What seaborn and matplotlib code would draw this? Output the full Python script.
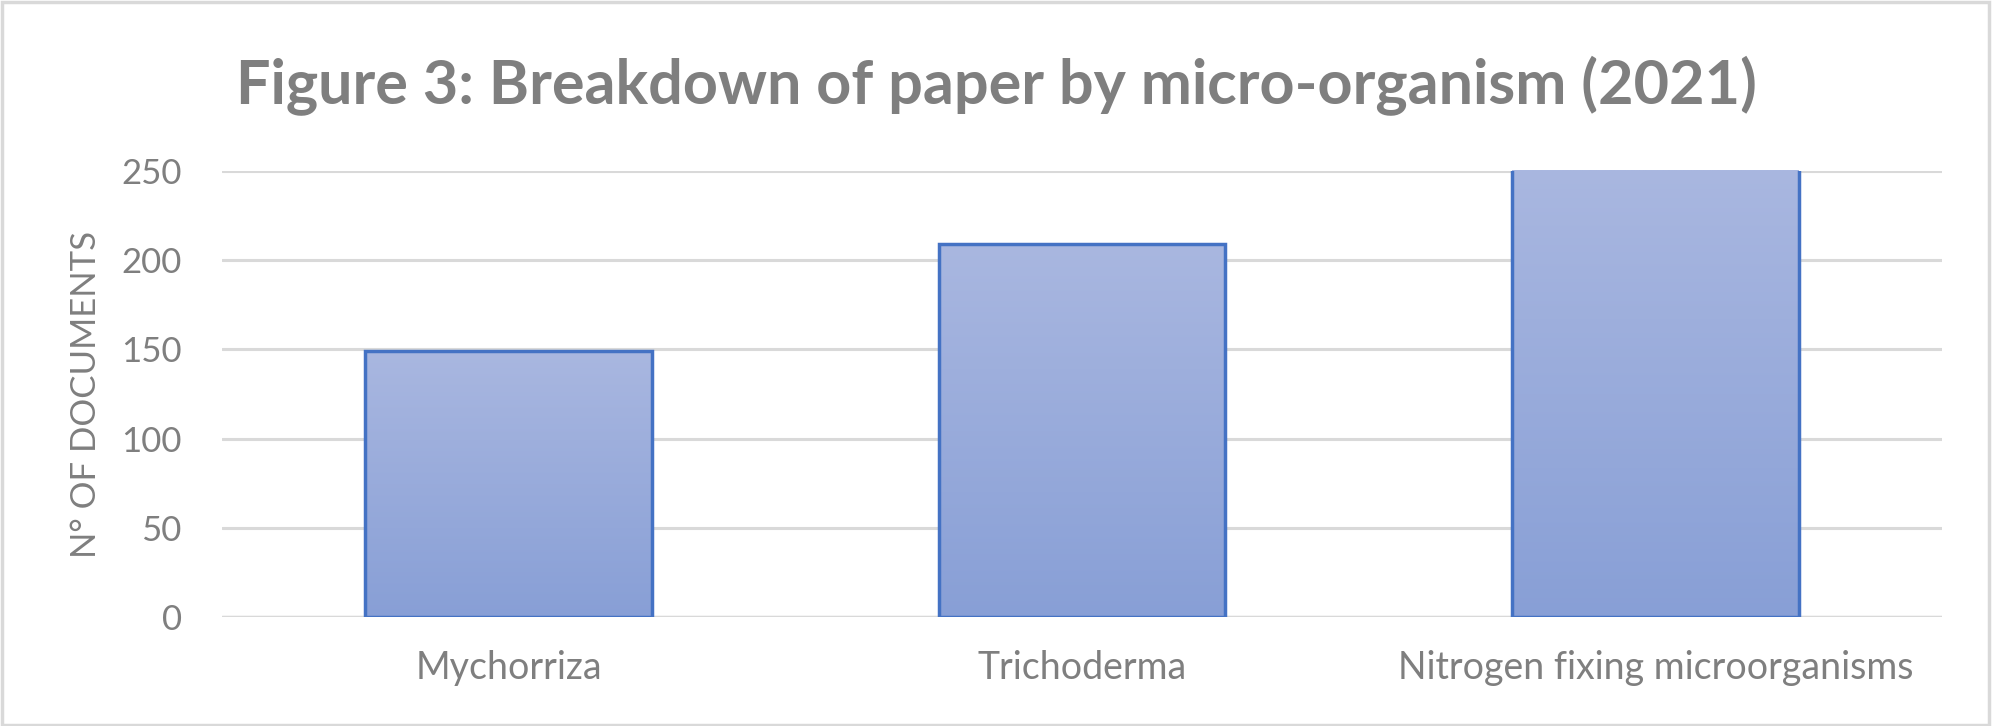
import matplotlib
matplotlib.use("Agg")
import matplotlib.pyplot as plt
import matplotlib.patches as mpatches
from matplotlib.colors import LinearSegmentedColormap
import numpy as np
import pandas as pd
import seaborn as sns

categories = ["Mychorriza", "Trichoderma", "Nitrogen fixing microorganisms"]
documents = [149, 209, 265]
y_ticks = [0, 50, 100, 150, 200, 250]

df = pd.DataFrame({"organism": categories, "docs": documents})

sns.set_theme(style="white")
plt.rcParams["font.family"] = ["Lato", "DejaVu Sans"]

grey = "#7f7f7f"
ymax = 250
fig = plt.figure(figsize=(19.93, 7.26), dpi=100)
ax = fig.add_axes([0.1114, 0.1501, 0.8630, 0.6144])

sns.barplot(data=df, x="organism", y="docs", ax=ax, width=0.5,
            color="#99abda", edgecolor="#4472c4", linewidth=2.5, zorder=3)

# vertical gradient inside each bar
cmap = LinearSegmentedColormap.from_list("grad", ["#889fd6", "#a9b7e0"])
grad = np.linspace(0, 1, 256).reshape(-1, 1)
for bar in ax.patches:
    x0, w, h = bar.get_x(), bar.get_width(), bar.get_height()
    top = min(h, ymax)
    im = ax.imshow(grad, cmap=cmap, origin="lower", aspect="auto",
                   extent=[x0, x0 + w, 0, top], zorder=3.5)
    im.set_clip_path(bar)
    bar.set_facecolor("none")
    bar.set_zorder(4)

ax.set_xlim(-0.5, 2.5)
ax.set_ylim(0, ymax)
ax.set_yticks(y_ticks)
ax.yaxis.grid(True, color="#d9d9d9", linewidth=2.2, zorder=0)
ax.set_axisbelow(True)
for s in ax.spines.values():
    s.set_visible(False)
ax.axhline(0, color="#d9d9d9", linewidth=2.5, zorder=2)

ax.tick_params(axis="x", length=0, labelsize=27, labelcolor=grey, pad=24)
ax.tick_params(axis="y", length=0, labelsize=25, labelcolor=grey, pad=29)
ax.set_xlabel("")
ax.set_ylabel("N° OF DOCUMENTS", fontsize=25, color=grey, labelpad=14)

fig.text(0.5, 1 - 104 / 726, "Figure 3: Breakdown of paper by micro-organism (2021)",
         fontsize=44, fontweight="bold", color=grey, ha="center", va="baseline")

fig.patches.append(mpatches.Rectangle((0.001, 0.002), 0.997, 0.995,
                                      transform=fig.transFigure, fill=False,
                                      edgecolor="#d9d9d9", linewidth=2.5))

fig.savefig("out.png", dpi=100, facecolor="white")
